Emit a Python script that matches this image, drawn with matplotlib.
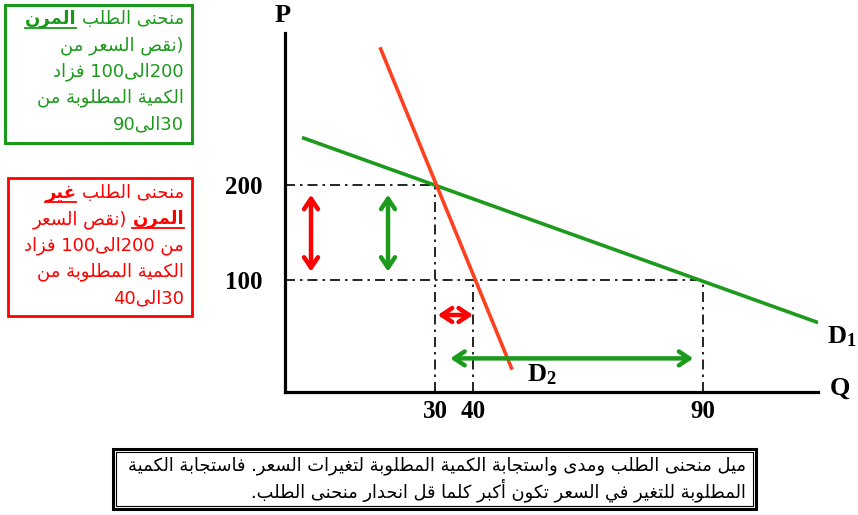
import re
import numpy as np
import matplotlib
matplotlib.use("Agg")
import matplotlib.pyplot as plt
from matplotlib.patches import Rectangle

plt.rcParams["mathtext.fontset"] = "custom"
plt.rcParams["mathtext.bf"] = "Liberation Serif:bold"
plt.rcParams["mathtext.rm"] = "Liberation Serif"

# values
price_levels = [200, 100]      # price falls 200 -> 100
q_elastic = [30, 90]           # D1 (elastic): quantity 30 -> 90
q_inelastic = [30, 40]         # D2 (inelastic): quantity 30 -> 40
d1_q = [3.4, 115]
d1_p = [250, 62]
d2_q = [19, 48.5]
d2_p = [345, 20]
x_ticks = [30, 40, 90]
y_ticks = [200, 100]

# the sketch is not drawn to scale -> piecewise axis scales copy its spacing
q_knots = [-50, 0, 30, 40, 90, 300]
q_span = [-250, 0, 150, 188, 418, 1384]
p_knots = [-100, 0, 100, 200, 1000]
p_span = [-112, 0, 112, 207, 967]

green_box = [
    [("منحنى الطلب", False), ("المرن", True)],
    [("(نقص السعر من", False)],
    [("200الى100 فزاد", False)],
    [("الكمية المطلوبة من", False)],
    [("30الى90", False)],
]
red_box = [
    [("منحنى الطلب", False), ("غير", True)],
    [("المرن", True), ("(نقص السعر", False)],
    [("من 200الى100 فزاد", False)],
    [("الكمية المطلوبة من", False)],
    [("30الى40", False)],
]
note_lines = [
    "ميل منحنى الطلب ومدى واستجابة الكمية المطلوبة لتغيرات السعر. فاستجابة الكمية",
    "المطلوبة للتغير في السعر تكون أكبر كلما قل انحدار منحنى الطلب.",
]

GREEN = "#1c9a1c"
RED = "#ff0000"
ORANGE = "#ff4020"

# --- minimal Arabic shaping (matplotlib does no shaping / bidi) ---
AR_FORMS = {  # letter -> (first presentation form, number of forms)
    "\u0621": (0xFE80, 1), "\u0622": (0xFE81, 2), "\u0623": (0xFE83, 2),
    "\u0624": (0xFE85, 2), "\u0625": (0xFE87, 2), "\u0626": (0xFE89, 4),
    "\u0627": (0xFE8D, 2), "\u0628": (0xFE8F, 4), "\u0629": (0xFE93, 2),
    "\u062A": (0xFE95, 4), "\u062B": (0xFE99, 4), "\u062C": (0xFE9D, 4),
    "\u062D": (0xFEA1, 4), "\u062E": (0xFEA5, 4), "\u062F": (0xFEA9, 2),
    "\u0630": (0xFEAB, 2), "\u0631": (0xFEAD, 2), "\u0632": (0xFEAF, 2),
    "\u0633": (0xFEB1, 4), "\u0634": (0xFEB5, 4), "\u0635": (0xFEB9, 4),
    "\u0636": (0xFEBD, 4), "\u0637": (0xFEC1, 4), "\u0638": (0xFEC5, 4),
    "\u0639": (0xFEC9, 4), "\u063A": (0xFECD, 4), "\u0641": (0xFED1, 4),
    "\u0642": (0xFED5, 4), "\u0643": (0xFED9, 4), "\u0644": (0xFEDD, 4),
    "\u0645": (0xFEE1, 4), "\u0646": (0xFEE5, 4), "\u0647": (0xFEE9, 4),
    "\u0648": (0xFEED, 2), "\u0649": (0xFEEF, 2), "\u064A": (0xFEF1, 4),
}
LAM_ALEF = {"\u0622": 0xFEF5, "\u0623": 0xFEF7, "\u0625": 0xFEF9, "\u0627": 0xFEFB}
MIRROR = str.maketrans("()", ")(")


def shape(s):
    out, i = [], 0
    while i < len(s):
        c = s[i]
        if c not in AR_FORMS:
            out.append(c)
            i += 1
            continue
        prev = s[i - 1] if i else ""
        nxt = s[i + 1] if i + 1 < len(s) else ""
        joins_prev = prev in AR_FORMS and AR_FORMS[prev][1] == 4
        if c == "\u0644" and nxt in LAM_ALEF:
            out.append(chr(LAM_ALEF[nxt] + joins_prev))
            i += 2
            continue
        base, n = AR_FORMS[c]
        joins_next = n == 4 and nxt in AR_FORMS and nxt != "\u0621"
        if n == 1:
            form = 0
        elif n == 2:
            form = int(joins_prev)
        else:
            form = {(False, False): 0, (True, False): 1,
                    (False, True): 2, (True, True): 3}[(joins_prev, joins_next)]
        out.append(chr(base + form))
        i += 1
    return "".join(out)


def visual(s):
    # right-to-left line: reverse, mirror brackets, keep numbers readable
    rev = shape(s)[::-1].translate(MIRROR)
    return re.sub(r"[0-9]+", lambda m: m.group(0)[::-1], rev)


fig = plt.figure(figsize=(8.58, 5.15), dpi=100)
ax = fig.add_axes([285 / 858, 123 / 515, 533 / 858, 359 / 515])
ax.set_xscale("function", functions=(lambda v: np.interp(v, q_knots, q_span),
                                     lambda v: np.interp(v, q_span, q_knots)))
ax.set_yscale("function", functions=(lambda v: np.interp(v, p_knots, p_span),
                                     lambda v: np.interp(v, p_span, p_knots)))
ax.set_xlim(0, 115)
ax.set_ylim(0, 360)
for side in ["top", "right"]:
    ax.spines[side].set_visible(False)
for side in ["left", "bottom"]:
    ax.spines[side].set_linewidth(2.3)
ax.set_facecolor("none")

tick_font = dict(family="Liberation Serif", weight="bold", size=18)
ax.set_xticks(x_ticks)
ax.set_xticklabels([str(v) for v in x_ticks], **tick_font)
ax.set_yticks(y_ticks)
ax.set_yticklabels([str(v) for v in y_ticks], **tick_font)
ax.tick_params(axis="x", length=0, pad=6)
ax.tick_params(axis="y", length=0, pad=16)

# guide lines
dash = dict(color="black", lw=1.2, ls=(0, (6, 3, 1.5, 3)), zorder=2)
ax.plot([0, q_elastic[0]], [price_levels[0]] * 2, **dash)
ax.plot([q_elastic[0]] * 2, [0, price_levels[0]], **dash)
ax.plot([0, q_elastic[1]], [price_levels[1]] * 2, **dash)
ax.plot([q_inelastic[1]] * 2, [0, price_levels[1]], **dash)
ax.plot([q_elastic[1]] * 2, [0, price_levels[1]], **dash)

# demand curves
ax.plot(d1_q, d1_p, color=GREEN, lw=2.6, zorder=3, solid_capstyle="butt")
ax.plot(d2_q, d2_p, color=ORANGE, lw=2.6, zorder=3, solid_capstyle="butt")


def arrow(p0, p1, color, s0, s1):
    ax.annotate("", xy=p1, xytext=p0, zorder=4,
                arrowprops=dict(arrowstyle="<->,head_length=0.75,head_width=0.5",
                                color=color, lw=3.2, shrinkA=s0, shrinkB=s1))


arrow((5.2, price_levels[0]), (5.2, price_levels[1]), RED, 7, 6)
arrow((20.6, price_levels[0]), (20.6, price_levels[1]), GREEN, 7, 6)
arrow((q_inelastic[0], 68.75), (q_inelastic[1], 68.75), RED, 2, 0)
arrow((q_elastic[0], 30), (q_elastic[1], 30), GREEN, 11, 7)

# overlay in pixel units for labels and text boxes
ov = fig.add_axes([0, 0, 1, 1])
ov.set_xlim(0, 858)
ov.set_ylim(515, 0)
ov.axis("off")

lab = dict(family="Liberation Serif", weight="bold", size=19, ha="center", va="center")
ov.text(283, 16, "P", **lab)
ov.text(840, 388, "Q", **lab)
ov.text(827, 337, r"$\mathbf{D_1}$", family="Liberation Serif", size=19, ha="left", va="center")
ov.text(527, 375, r"$\mathbf{D_2}$", family="Liberation Serif", size=19, ha="left", va="center")

ov.add_patch(Rectangle((5, 5), 187, 138, fill=False, ec=GREEN, lw=2.2))
ov.add_patch(Rectangle((8, 178), 184, 138, fill=False, ec=RED, lw=2.0))
ov.add_patch(Rectangle((113, 449), 643, 60, fill=False, ec="black", lw=2.2))
ov.add_patch(Rectangle((116, 452), 637, 54, fill=False, ec="black", lw=0.8))

renderer = fig.canvas.get_renderer()


def draw_box(lines, x_right, y0, step, color, size):
    gap = size * 0.3 * 100 / 72
    for k, segs in enumerate(lines):
        y = y0 + k * step
        x = x_right
        for text, strong in segs:
            t = ov.text(x, y, visual(text), ha="right", va="center", color=color,
                        size=size, family="DejaVu Sans",
                        weight="bold" if strong else "normal")
            w = t.get_window_extent(renderer=renderer).width
            if strong:
                ov.plot([x - w, x], [y + 9, y + 9], color=color, lw=1.3)
            x -= w + gap


draw_box(green_box, 184, 19, 26.3, GREEN, 13)
draw_box(red_box, 184, 193, 26.3, RED, 13)
for k, line in enumerate(note_lines):
    ov.text(746, 466 + k * 24, visual(line), ha="right", va="center",
            size=12.9, family="DejaVu Sans", color="black")

fig.savefig("out.png", dpi=100)
